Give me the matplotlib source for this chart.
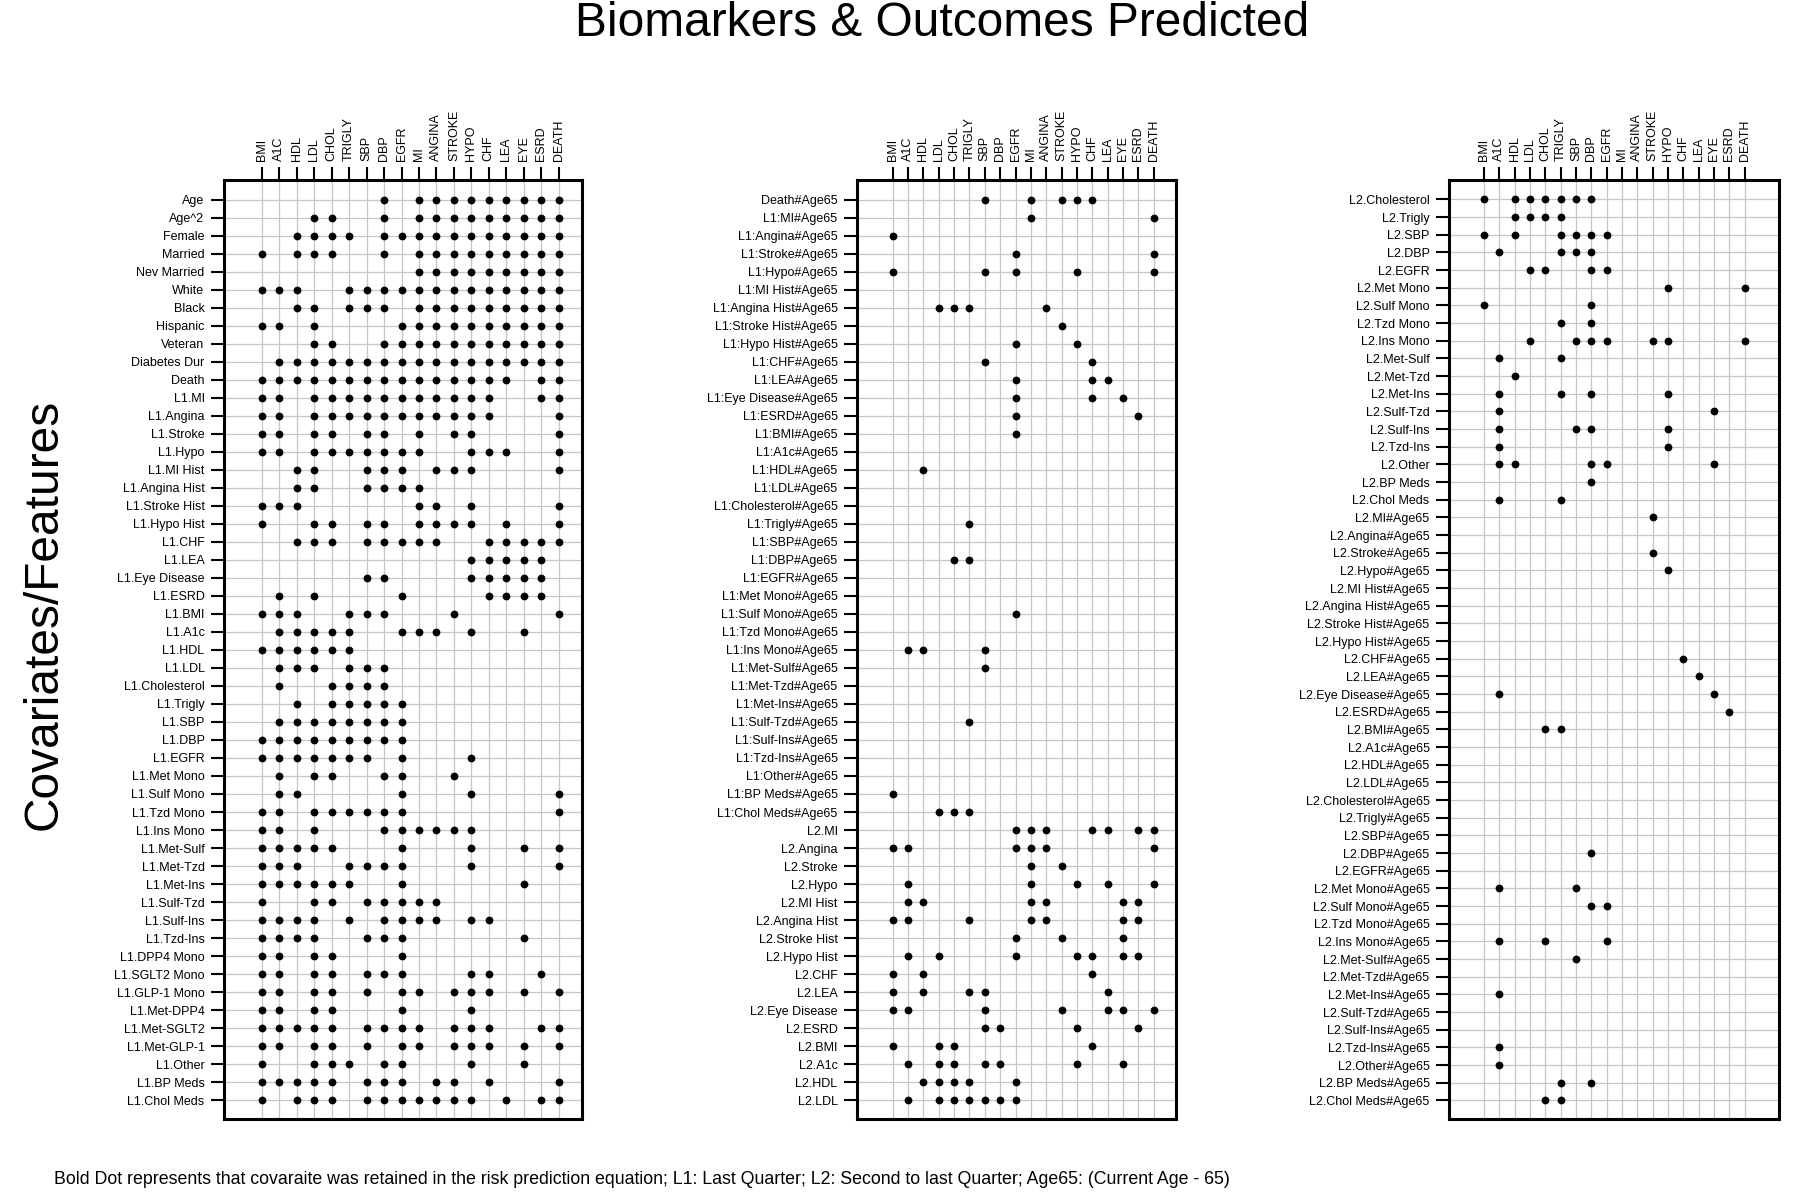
import matplotlib
matplotlib.use("Agg")
import matplotlib.pyplot as plt

plt.rcParams['font.family'] = ['Liberation Sans', 'DejaVu Sans']

outcomes = ["BMI", "A1C", "HDL", "LDL", "CHOL", "TRIGLY", "SBP", "DBP", "EGFR",
            "MI", "ANGINA", "STROKE", "HYPO", "CHF", "LEA", "EYE", "ESRD", "DEATH"]

# ---------------- Panel 1 ----------------
p1_rows = ["Age", "Age^2", "Female", "Married", "Nev Married", "White", "Black",
           "Hispanic", "Veteran", "Diabetes Dur", "Death", "L1.MI", "L1.Angina",
           "L1.Stroke", "L1.Hypo", "L1.MI Hist", "L1.Angina Hist", "L1.Stroke Hist",
           "L1.Hypo Hist", "L1.CHF", "L1.LEA", "L1.Eye Disease", "L1.ESRD", "L1.BMI",
           "L1.A1c", "L1.HDL", "L1.LDL", "L1.Cholesterol", "L1.Trigly", "L1.SBP",
           "L1.DBP", "L1.EGFR", "L1.Met Mono", "L1.Sulf Mono", "L1.Tzd Mono",
           "L1.Ins Mono", "L1.Met-Sulf", "L1.Met-Tzd", "L1.Met-Ins", "L1.Sulf-Tzd",
           "L1.Sulf-Ins", "L1.Tzd-Ins", "L1.DPP4 Mono", "L1.SGLT2 Mono",
           "L1.GLP-1 Mono", "L1.Met-DPP4", "L1.Met-SGLT2", "L1.Met-GLP-1",
           "L1.Other", "L1.BP Meds", "L1.Chol Meds"]
p1_dots = [
    ["DBP", "MI", "ANGINA", "STROKE", "HYPO", "CHF", "LEA", "EYE", "ESRD", "DEATH"],
    ["LDL", "CHOL", "DBP", "MI", "ANGINA", "STROKE", "HYPO", "CHF", "LEA", "EYE", "ESRD", "DEATH"],
    ["HDL", "LDL", "CHOL", "TRIGLY", "DBP", "EGFR", "MI", "ANGINA", "STROKE", "HYPO", "CHF", "LEA", "EYE", "ESRD", "DEATH"],
    ["BMI", "HDL", "LDL", "CHOL", "DBP", "MI", "ANGINA", "STROKE", "HYPO", "CHF", "LEA", "EYE", "ESRD", "DEATH"],
    ["MI", "ANGINA", "STROKE", "HYPO", "CHF", "LEA", "EYE", "ESRD", "DEATH"],
    ["BMI", "A1C", "HDL", "TRIGLY", "SBP", "DBP", "EGFR", "MI", "ANGINA", "STROKE", "HYPO", "CHF", "LEA", "EYE", "ESRD", "DEATH"],
    ["HDL", "LDL", "TRIGLY", "SBP", "DBP", "MI", "ANGINA", "STROKE", "HYPO", "CHF", "LEA", "EYE", "ESRD", "DEATH"],
    ["BMI", "A1C", "LDL", "EGFR", "MI", "ANGINA", "STROKE", "HYPO", "CHF", "LEA", "EYE", "ESRD", "DEATH"],
    ["LDL", "CHOL", "DBP", "EGFR", "MI", "ANGINA", "STROKE", "HYPO", "CHF", "LEA", "EYE", "ESRD", "DEATH"],
    ["A1C", "HDL", "LDL", "CHOL", "TRIGLY", "SBP", "DBP", "EGFR", "MI", "ANGINA", "STROKE", "HYPO", "CHF", "LEA", "EYE", "ESRD", "DEATH"],
    ["BMI", "A1C", "HDL", "LDL", "CHOL", "TRIGLY", "SBP", "DBP", "EGFR", "MI", "ANGINA", "STROKE", "HYPO", "CHF", "LEA", "ESRD", "DEATH"],
    ["BMI", "A1C", "LDL", "CHOL", "TRIGLY", "SBP", "DBP", "EGFR", "MI", "ANGINA", "STROKE", "HYPO", "CHF", "ESRD", "DEATH"],
    ["BMI", "A1C", "LDL", "CHOL", "TRIGLY", "SBP", "DBP", "EGFR", "MI", "ANGINA", "STROKE", "HYPO", "CHF", "DEATH"],
    ["BMI", "A1C", "LDL", "CHOL", "SBP", "DBP", "MI", "STROKE", "HYPO", "DEATH"],
    ["BMI", "A1C", "LDL", "CHOL", "TRIGLY", "SBP", "DBP", "EGFR", "MI", "HYPO", "CHF", "LEA", "DEATH"],
    ["HDL", "LDL", "SBP", "DBP", "EGFR", "ANGINA", "STROKE", "HYPO", "DEATH"],
    ["HDL", "LDL", "SBP", "DBP", "EGFR", "MI"],
    ["BMI", "A1C", "HDL", "MI", "ANGINA", "HYPO", "DEATH"],
    ["BMI", "LDL", "CHOL", "SBP", "DBP", "MI", "ANGINA", "STROKE", "HYPO", "LEA", "DEATH"],
    ["HDL", "LDL", "CHOL", "SBP", "DBP", "EGFR", "MI", "ANGINA", "CHF", "LEA", "EYE", "ESRD", "DEATH"],
    ["HYPO", "CHF", "LEA", "EYE", "ESRD"],
    ["SBP", "DBP", "HYPO", "CHF", "LEA", "EYE", "ESRD"],
    ["A1C", "LDL", "EGFR", "CHF", "LEA", "EYE", "ESRD"],
    ["BMI", "A1C", "HDL", "TRIGLY", "SBP", "DBP", "STROKE", "DEATH"],
    ["A1C", "HDL", "LDL", "CHOL", "TRIGLY", "EGFR", "MI", "ANGINA", "HYPO", "EYE"],
    ["BMI", "A1C", "HDL", "LDL", "CHOL", "TRIGLY"],
    ["A1C", "HDL", "LDL", "TRIGLY", "SBP", "DBP"],
    ["A1C", "CHOL", "TRIGLY", "SBP", "DBP"],
    ["HDL", "CHOL", "TRIGLY", "SBP", "DBP", "EGFR"],
    ["A1C", "HDL", "LDL", "CHOL", "TRIGLY", "SBP", "DBP", "EGFR"],
    ["BMI", "A1C", "HDL", "LDL", "CHOL", "TRIGLY", "SBP", "DBP", "EGFR"],
    ["BMI", "A1C", "HDL", "LDL", "CHOL", "TRIGLY", "SBP", "EGFR", "HYPO"],
    ["A1C", "LDL", "CHOL", "DBP", "EGFR", "STROKE"],
    ["A1C", "HDL", "EGFR", "HYPO", "DEATH"],
    ["BMI", "A1C", "LDL", "CHOL", "TRIGLY", "SBP", "DBP", "EGFR", "DEATH"],
    ["BMI", "A1C", "LDL", "DBP", "EGFR", "MI", "ANGINA", "STROKE", "HYPO"],
    ["BMI", "A1C", "HDL", "LDL", "CHOL", "EGFR", "HYPO", "EYE", "DEATH"],
    ["BMI", "A1C", "HDL", "TRIGLY", "SBP", "DBP", "EGFR", "HYPO", "DEATH"],
    ["BMI", "A1C", "HDL", "LDL", "CHOL", "TRIGLY", "EGFR", "EYE"],
    ["BMI", "LDL", "CHOL", "SBP", "DBP", "EGFR", "MI", "ANGINA"],
    ["BMI", "A1C", "HDL", "LDL", "TRIGLY", "DBP", "EGFR", "MI", "ANGINA", "HYPO", "CHF"],
    ["BMI", "A1C", "HDL", "LDL", "SBP", "DBP", "EGFR", "EYE"],
    ["BMI", "A1C", "LDL", "CHOL", "EGFR"],
    ["BMI", "A1C", "LDL", "CHOL", "SBP", "DBP", "EGFR", "HYPO", "CHF", "ESRD"],
    ["BMI", "A1C", "LDL", "CHOL", "SBP", "EGFR", "MI", "STROKE", "HYPO", "CHF", "EYE", "DEATH"],
    ["BMI", "A1C", "LDL", "CHOL", "EGFR", "HYPO"],
    ["BMI", "A1C", "HDL", "LDL", "CHOL", "SBP", "DBP", "EGFR", "MI", "STROKE", "HYPO", "CHF", "ESRD", "DEATH"],
    ["BMI", "A1C", "LDL", "CHOL", "SBP", "EGFR", "MI", "STROKE", "HYPO", "CHF", "EYE", "DEATH"],
    ["BMI", "LDL", "CHOL", "TRIGLY", "DBP", "EGFR", "HYPO", "EYE"],
    ["BMI", "A1C", "HDL", "LDL", "CHOL", "SBP", "DBP", "EGFR", "ANGINA", "STROKE", "CHF", "DEATH"],
    ["BMI", "HDL", "LDL", "CHOL", "SBP", "DBP", "EGFR", "MI", "ANGINA", "STROKE", "HYPO", "LEA", "ESRD", "DEATH"],
]

# ---------------- Panel 2 ----------------
p2_rows = ["Death#Age65", "L1:MI#Age65", "L1:Angina#Age65", "L1:Stroke#Age65",
           "L1:Hypo#Age65", "L1:MI Hist#Age65", "L1:Angina Hist#Age65",
           "L1:Stroke Hist#Age65", "L1:Hypo Hist#Age65", "L1:CHF#Age65",
           "L1:LEA#Age65", "L1:Eye Disease#Age65", "L1:ESRD#Age65", "L1:BMI#Age65",
           "L1:A1c#Age65", "L1:HDL#Age65", "L1:LDL#Age65", "L1:Cholesterol#Age65",
           "L1:Trigly#Age65", "L1:SBP#Age65", "L1:DBP#Age65", "L1:EGFR#Age65",
           "L1:Met Mono#Age65", "L1:Sulf Mono#Age65", "L1:Tzd Mono#Age65",
           "L1:Ins Mono#Age65", "L1:Met-Sulf#Age65", "L1:Met-Tzd#Age65",
           "L1:Met-Ins#Age65", "L1:Sulf-Tzd#Age65", "L1:Sulf-Ins#Age65",
           "L1:Tzd-Ins#Age65", "L1:Other#Age65", "L1:BP Meds#Age65",
           "L1:Chol Meds#Age65", "L2.MI", "L2.Angina", "L2.Stroke", "L2.Hypo",
           "L2.MI Hist", "L2.Angina Hist", "L2.Stroke Hist", "L2.Hypo Hist",
           "L2.CHF", "L2.LEA", "L2.Eye Disease", "L2.ESRD", "L2.BMI", "L2.A1c",
           "L2.HDL", "L2.LDL"]
p2_dots = [
    ["SBP", "MI", "STROKE", "HYPO", "CHF"],
    ["MI", "DEATH"],
    ["BMI"],
    ["EGFR", "DEATH"],
    ["BMI", "SBP", "EGFR", "HYPO", "DEATH"],
    [],
    ["LDL", "CHOL", "TRIGLY", "ANGINA"],
    ["STROKE"],
    ["EGFR", "HYPO"],
    ["SBP", "CHF"],
    ["EGFR", "CHF", "LEA"],
    ["EGFR", "CHF", "EYE"],
    ["EGFR", "ESRD"],
    ["EGFR"],
    [],
    ["HDL"],
    [],
    [],
    ["TRIGLY"],
    [],
    ["CHOL", "TRIGLY"],
    [],
    [],
    ["EGFR"],
    [],
    ["A1C", "HDL", "SBP"],
    ["SBP"],
    [],
    [],
    ["TRIGLY"],
    [],
    [],
    [],
    ["BMI"],
    ["LDL", "CHOL", "TRIGLY"],
    ["EGFR", "MI", "ANGINA", "CHF", "LEA", "ESRD", "DEATH"],
    ["BMI", "A1C", "EGFR", "MI", "ANGINA", "DEATH"],
    ["MI", "STROKE"],
    ["A1C", "MI", "HYPO", "LEA", "DEATH"],
    ["A1C", "HDL", "MI", "ANGINA", "EYE", "ESRD"],
    ["BMI", "A1C", "TRIGLY", "MI", "ANGINA", "EYE", "ESRD"],
    ["EGFR", "STROKE", "EYE"],
    ["A1C", "LDL", "EGFR", "HYPO", "CHF", "EYE", "ESRD"],
    ["BMI", "HDL", "CHF"],
    ["BMI", "HDL", "TRIGLY", "SBP", "LEA"],
    ["BMI", "A1C", "SBP", "STROKE", "LEA", "EYE", "DEATH"],
    ["SBP", "DBP", "HYPO", "ESRD"],
    ["BMI", "LDL", "CHOL", "CHF"],
    ["A1C", "LDL", "CHOL", "SBP", "DBP", "HYPO", "EYE"],
    ["HDL", "LDL", "CHOL", "TRIGLY", "EGFR"],
    ["A1C", "LDL", "CHOL", "TRIGLY", "SBP", "DBP", "EGFR"],
]

# ---------------- Panel 3 ----------------
p3_rows = ["L2.Cholesterol", "L2.Trigly", "L2.SBP", "L2.DBP", "L2.EGFR",
           "L2.Met Mono", "L2.Sulf Mono", "L2.Tzd Mono", "L2.Ins Mono",
           "L2.Met-Sulf", "L2.Met-Tzd", "L2.Met-Ins", "L2.Sulf-Tzd", "L2.Sulf-Ins",
           "L2.Tzd-Ins", "L2.Other", "L2.BP Meds", "L2.Chol Meds", "L2.MI#Age65",
           "L2.Angina#Age65", "L2.Stroke#Age65", "L2.Hypo#Age65",
           "L2.MI Hist#Age65", "L2.Angina Hist#Age65", "L2.Stroke Hist#Age65",
           "L2.Hypo Hist#Age65", "L2.CHF#Age65", "L2.LEA#Age65",
           "L2.Eye Disease#Age65", "L2.ESRD#Age65", "L2.BMI#Age65", "L2.A1c#Age65",
           "L2.HDL#Age65", "L2.LDL#Age65", "L2.Cholesterol#Age65",
           "L2.Trigly#Age65", "L2.SBP#Age65", "L2.DBP#Age65", "L2.EGFR#Age65",
           "L2.Met Mono#Age65", "L2.Sulf Mono#Age65", "L2.Tzd Mono#Age65",
           "L2.Ins Mono#Age65", "L2.Met-Sulf#Age65", "L2.Met-Tzd#Age65",
           "L2.Met-Ins#Age65", "L2.Sulf-Tzd#Age65", "L2.Sulf-Ins#Age65",
           "L2.Tzd-Ins#Age65", "L2.Other#Age65", "L2.BP Meds#Age65",
           "L2.Chol Meds#Age65"]
p3_dots = [
    ["BMI", "HDL", "LDL", "CHOL", "TRIGLY", "SBP", "DBP"],
    ["HDL", "LDL", "CHOL", "TRIGLY"],
    ["BMI", "HDL", "TRIGLY", "SBP", "DBP", "EGFR"],
    ["A1C", "TRIGLY", "SBP", "DBP"],
    ["LDL", "CHOL", "DBP", "EGFR"],
    ["HYPO", "DEATH"],
    ["BMI", "DBP"],
    ["TRIGLY", "DBP"],
    ["LDL", "SBP", "DBP", "EGFR", "STROKE", "HYPO", "DEATH"],
    ["A1C", "TRIGLY"],
    ["HDL"],
    ["A1C", "TRIGLY", "DBP", "HYPO"],
    ["A1C", "EYE"],
    ["A1C", "SBP", "DBP", "HYPO"],
    ["A1C", "HYPO"],
    ["A1C", "HDL", "DBP", "EGFR", "EYE"],
    ["DBP"],
    ["A1C", "TRIGLY"],
    ["STROKE"],
    [],
    ["STROKE"],
    ["HYPO"],
    [],
    [],
    [],
    [],
    ["CHF"],
    ["LEA"],
    ["A1C", "EYE"],
    ["ESRD"],
    ["CHOL", "TRIGLY"],
    [],
    [],
    [],
    [],
    [],
    [],
    ["DBP"],
    [],
    ["A1C", "SBP"],
    ["DBP", "EGFR"],
    [],
    ["A1C", "CHOL", "EGFR"],
    ["SBP"],
    [],
    ["A1C"],
    [],
    [],
    ["A1C"],
    ["A1C"],
    ["TRIGLY", "DBP"],
    ["CHOL", "TRIGLY"],
]

W, H = 1800, 1192
fig = plt.figure(figsize=(W / 100, H / 100), dpi=100)

TOP_PX, BOT_PX = 180, 1119
panels = [
    (p1_rows, p1_dots, 224, 582, (-2.16, 18.33)),
    (p2_rows, p2_dots, 857, 1176, (-2.33, 18.46)),
    (p3_rows, p3_dots, 1449, 1779, (-2.28, 19.24)),
]

for rows, dots, lpx, rpx, xl in panels:
    ax = fig.add_axes([lpx / W, 1 - BOT_PX / H, (rpx - lpx) / W, (BOT_PX - TOP_PX) / H])
    n = len(rows)
    for i in range(n):
        ax.axhline(i, color="#c6c6c6", lw=0.9, zorder=1)
    for j in range(len(outcomes)):
        ax.axvline(j, color="#c6c6c6", lw=0.9, zorder=1)
    xs, ys = [], []
    for i, cols in enumerate(dots):
        for c in cols:
            xs.append(outcomes.index(c))
            ys.append(i)
    ax.plot(xs, ys, "o", color="black", markersize=4.6, zorder=3, linestyle="none")
    ax.set_xlim(*xl)
    ax.set_ylim(n - 1 + 1.05, -1.1)
    ax.set_yticks(range(n))
    ax.set_yticklabels(rows, fontsize=9)
    ax.set_xticks(range(len(outcomes)))
    ax.set_xticklabels(outcomes, fontsize=9, rotation=90)
    ax.xaxis.tick_top()
    ax.tick_params(axis="both", direction="out", length=9.5, width=1.5, pad=4.5,
                   colors="black")
    ax.tick_params(axis="x", bottom=False, labelbottom=False, top=True, labeltop=True)
    ax.tick_params(axis="y", right=False, left=True)
    for s in ax.spines.values():
        s.set_linewidth(2.2)
        s.set_color("black")

fig.text(942 / W, 1 - 23 / H, "Biomarkers & Outcomes Predicted", fontsize=34.5,
         ha="center", va="center")
fig.text(44 / W, 1 - 614 / H, "Covariates/Features", fontsize=34.5, rotation=90,
         ha="center", va="center")
fig.text(54 / W, 1 - 1179 / H,
         "Bold Dot represents that covaraite was retained in the risk prediction equation; "
         "L1: Last Quarter; L2: Second to last Quarter; Age65: (Current Age - 65)",
         fontsize=12.8, ha="left", va="center")

fig.savefig("out.png", dpi=100)
